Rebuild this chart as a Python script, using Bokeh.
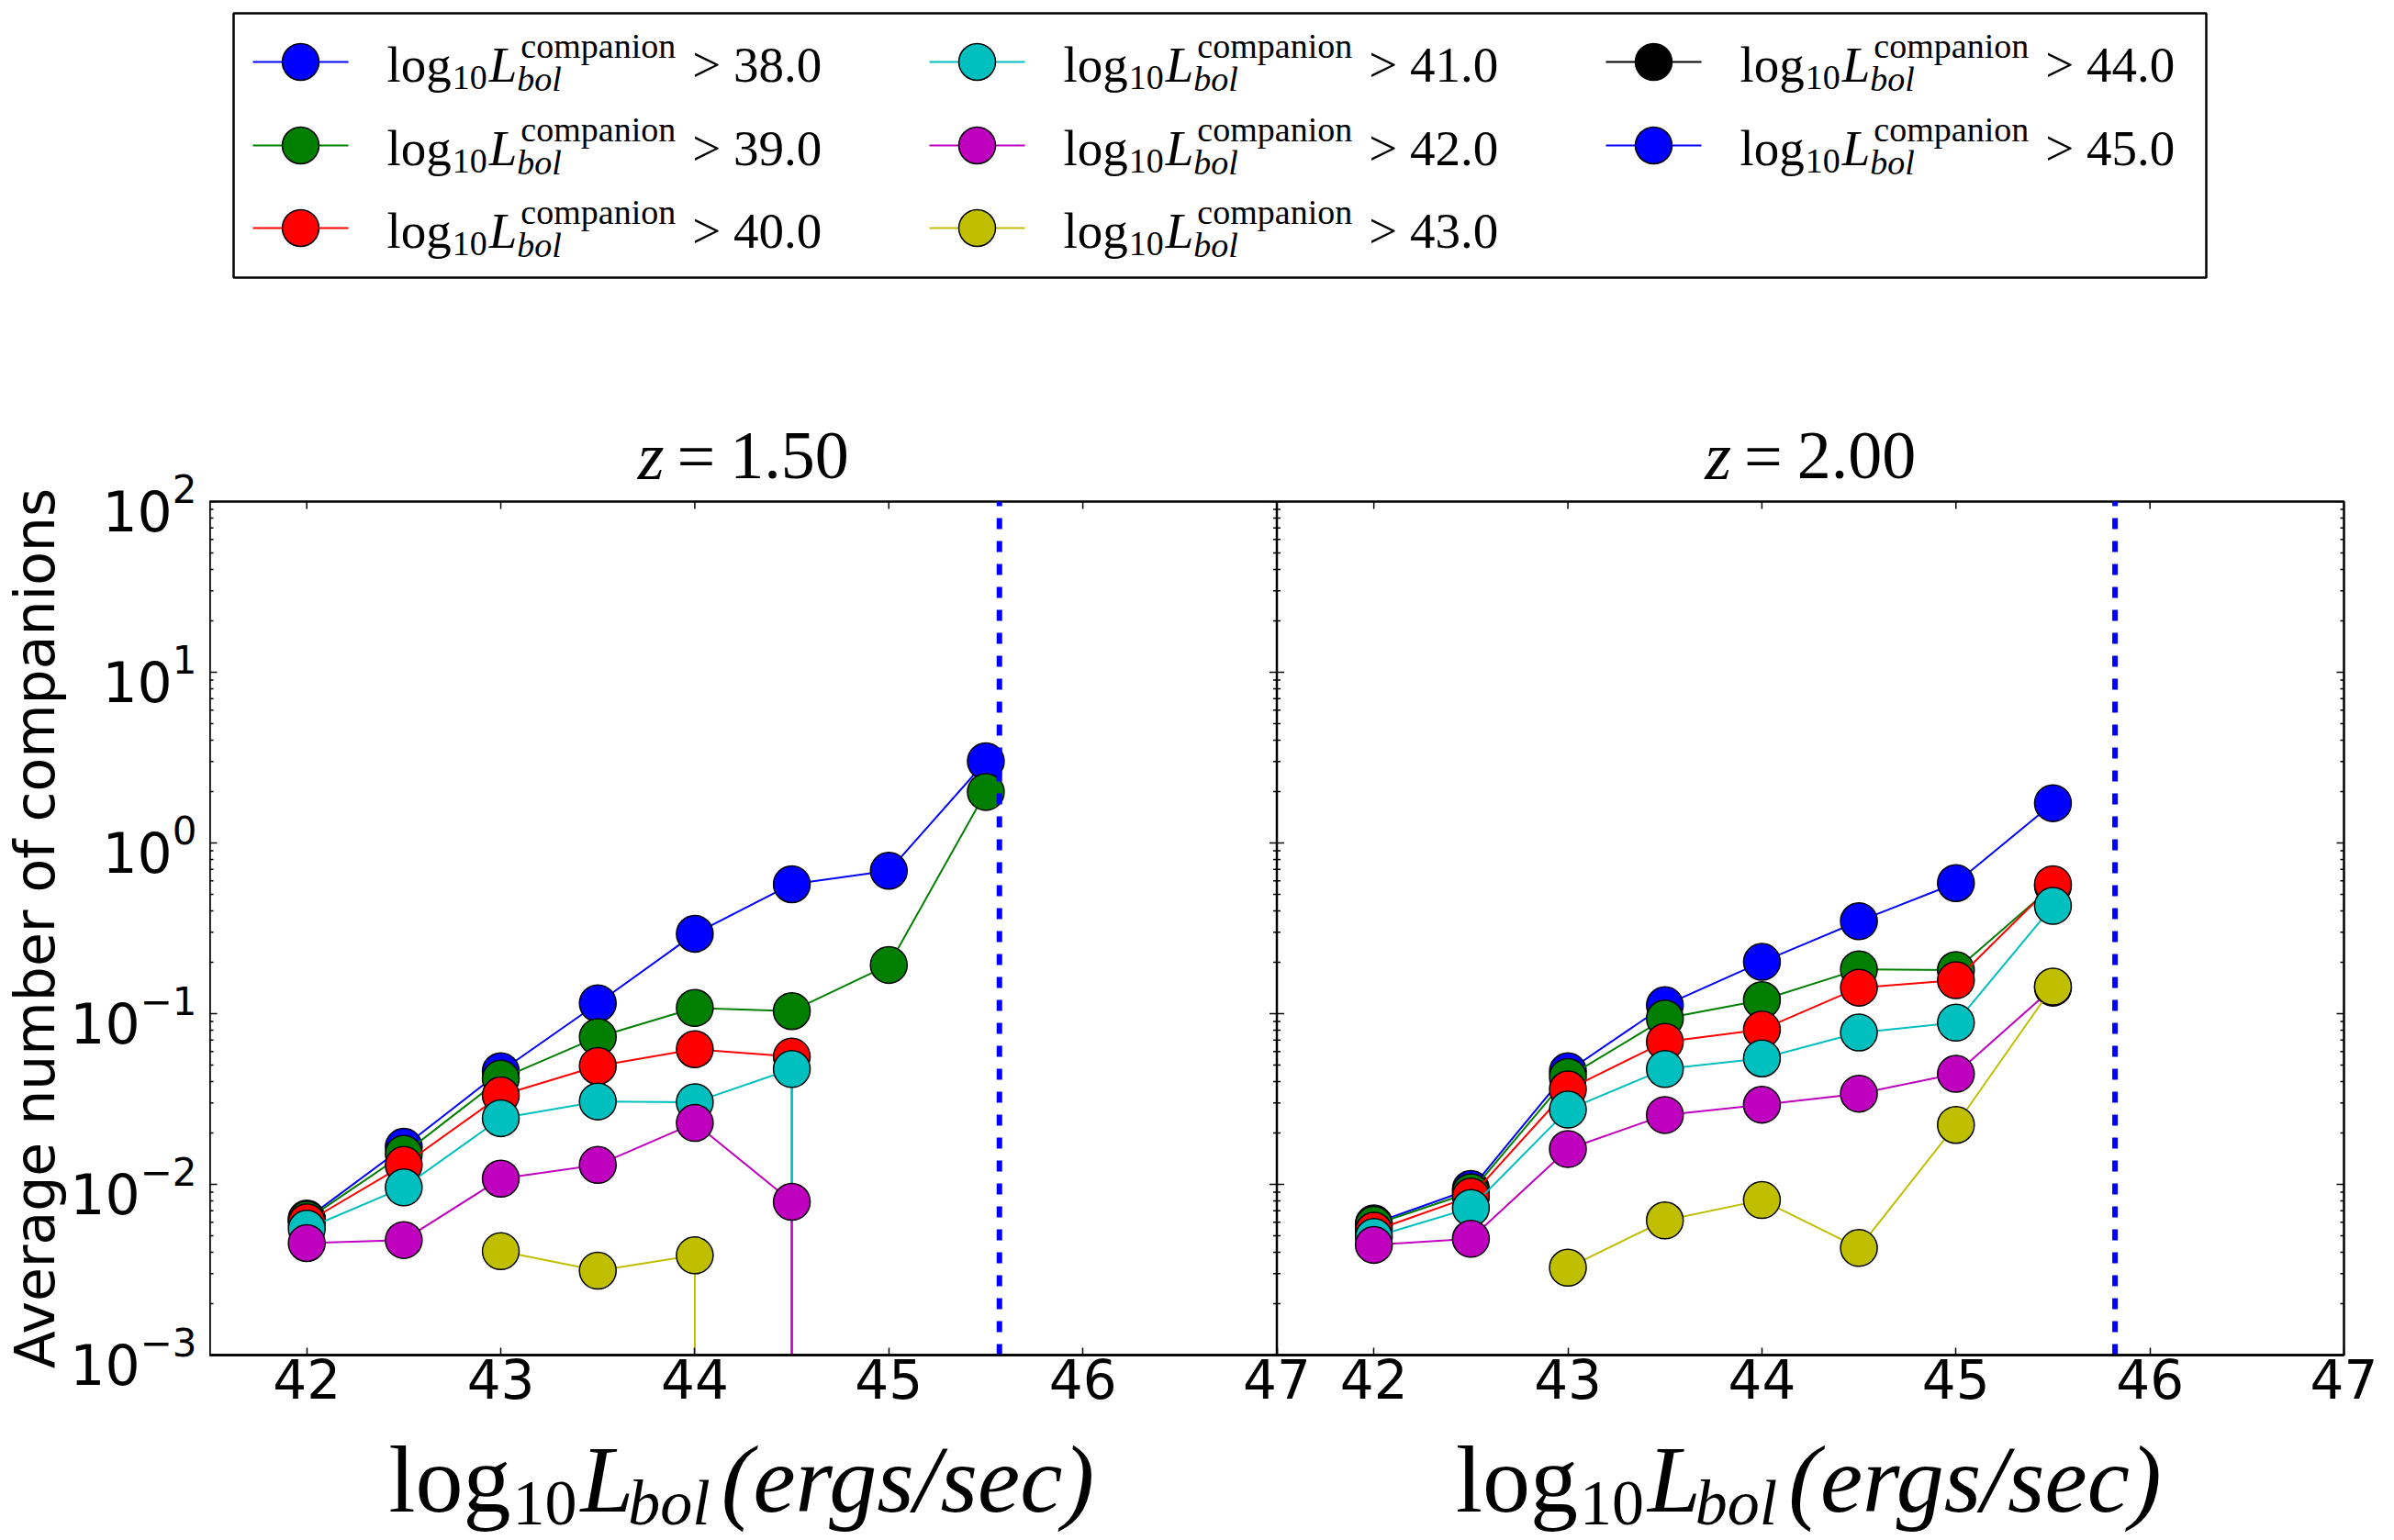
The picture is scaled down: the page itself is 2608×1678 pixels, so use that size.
import numpy as np
from bokeh.plotting import figure
from bokeh.layouts import column, row
from bokeh.models import Range1d, FixedTicker, Span, CustomJSTickFormatter
from bokeh.core.properties import value
from bokeh.embed import file_html
from bokeh.resources import INLINE

# ---------------------------------------------------------------- data
log_lbol = [42.0, 42.5, 43.0, 43.5, 44.0, 44.5, 45.0, 45.5]
thresholds = [38.0, 39.0, 40.0, 41.0, 42.0, 43.0, 44.0, 45.0]
series_colors = ["#0000ff", "#007f00", "#ff0000", "#00bfbf",
                 "#bf00bf", "#bfbf00", "#000000", "#0000ff"]
redshift_labels = ["1.50", "2.00"]
max_lbol = [45.57, 45.82]          # brightest AGN in each snapshot

# None: no AGN in the bin, 0.0: no companion above the threshold
z150_gt38 = [0.0063, 0.0166, 0.046, 0.115, 0.294, 0.573, 0.687, 3.01]
z150_gt39 = [0.0062, 0.0151, 0.0416, 0.073, 0.108, 0.1035, 0.193, 1.99]
z150_gt40 = [0.0060, 0.0130, 0.0332, 0.0494, 0.0619, 0.056, 0.0, 0.0]
z150_gt41 = [0.0055, 0.0096, 0.0244, 0.0306, 0.0303, 0.0474, 0.0, 0.0]
z150_gt42 = [0.00453, 0.00472, 0.0108, 0.0130, 0.0229, 0.0079, 0.0, 0.0]
z150_gt43 = [None, None, 0.00406, 0.00312, 0.00384, 0.0, 0.0, 0.0]

z200_gt38 = [0.0059, 0.0094, 0.046, 0.112, 0.201, 0.348, 0.582, 1.71]
z200_gt39 = [0.0058, 0.0090, 0.0426, 0.0937, 0.120, 0.182, 0.180, 0.56]
z200_gt40 = [0.00535, 0.0085, 0.0360, 0.0684, 0.0807, 0.142, 0.157, 0.573]
z200_gt41 = [0.00492, 0.00728, 0.0274, 0.0474, 0.0547, 0.0775, 0.0885, 0.428]
z200_gt42 = [0.00442, 0.00480, 0.0161, 0.0255, 0.0293, 0.0340, 0.0444, 0.142]
z200_gt43 = [None, None, 0.00325, 0.00615, 0.00809, 0.00424, 0.0223, 0.144]

panel_series = [
    [z150_gt38, z150_gt39, z150_gt40, z150_gt41, z150_gt42, z150_gt43],
    [z200_gt38, z200_gt39, z200_gt40, z200_gt41, z200_gt42, z200_gt43],
]

x_ticks = [42, 43, 44, 45, 46, 47]
y_decades = [-3, -2, -1, 0, 1, 2]

# ---------------------------------------------------------------- helpers
SERIF = "Liberation Serif"
SANS = "DejaVu Sans"
_ROMAN = {' ': 250, '(': 333, ')': 333, '.': 250, '/': 278, '=': 564, '>': 564,
          'a': 444, 'b': 500, 'c': 444, 'e': 444, 'g': 500, 'i': 278, 'l': 278,
          'm': 778, 'n': 500, 'o': 500, 'p': 500, 'r': 333, 's': 389, 'z': 444,
          'L': 611}
_ITALIC = {'L': 556, 'b': 500, 'o': 500, 'l': 278, 'e': 444, 'r': 389, 'g': 500,
           's': 389, 'c': 444, 'z': 389, '(': 333, ')': 333, '/': 278}
MID_TO_BASE = 0.305    # em distance from the "middle" anchor down to the baseline


def text_width(s, size, italic=False):
    table = _ITALIC if italic else _ROMAN
    return sum(table.get(ch, 500) for ch in s) / 1000.0 * size


def bare(fig):
    fig.grid.visible = False
    fig.outline_line_color = None
    fig.background_fill_color = "white"
    fig.border_fill_color = "white"


# page geometry (pixels)
W, H = 2608, 1678
FRAME_LEFT, FRAME_RIGHT = 228, 2553
FRAME_TOP, FRAME_BOTTOM = 546, 1476
TOP_END = 545          # legend + titles strip ends here
BOT_START = 1550       # x-axis titles strip starts here
RIGHT_W = W - FRAME_LEFT

x_lo, x_hi = 41.5, 47.0
x_span = x_hi - x_lo
y_lo, y_hi = 10.0 ** y_decades[0], 10.0 ** y_decades[-1]
y_major = [10.0 ** k for k in y_decades]
y_minor = [m * 10.0 ** k for k in y_decades[:-1] for m in range(2, 10)]
x_mid = (x_lo + x_hi) / 2.0


def panel_ranges(fig):
    # left panel on the default x range, right panel on "z2" (shifted by one panel width)
    fig.extra_x_ranges = {"z2": Range1d(x_lo - x_span, x_hi),
                          "px": Range1d(FRAME_LEFT, FRAME_RIGHT)}


range_names = ["default", "z2"]
common = dict(output_backend="svg", toolbar_location=None)

# ---------------------------------------------------------------- panels
p = figure(width=RIGHT_W, height=BOT_START - TOP_END,
           x_range=Range1d(x_lo, x_hi + x_span), y_range=Range1d(y_lo, y_hi),
           y_axis_type="log", y_axis_location=None,
           min_border_left=0, min_border_right=W - FRAME_RIGHT,
           min_border_top=FRAME_TOP - TOP_END, min_border_bottom=BOT_START - FRAME_BOTTOM,
           **common)
panel_ranges(p)
p.xgrid.visible = False
p.ygrid.visible = False
p.outline_line_color = "black"
p.outline_line_width = 2.5
p.background_fill_color = "white"
p.border_fill_color = "white"

xb = p.xaxis[0]
xb.ticker = FixedTicker(ticks=x_ticks + [t + x_span for t in x_ticks], minor_ticks=[])
xb.formatter = CustomJSTickFormatter(
    args=dict(split=x_hi, shift=x_span),
    code="return (tick > split + 1e-6 ? tick - shift : tick).toFixed(0);")
xb.major_tick_in = 8
xb.major_tick_out = 0
xb.major_tick_line_width = 1.5
xb.axis_line_width = 2.5
xb.major_label_text_font = SANS
xb.major_label_text_font_size = "58px"
xb.major_label_text_color = "black"
xb.major_label_standoff = 4

# shared spine between the panels
p.add_layout(Span(location=x_hi, dimension="height", line_color="black", line_width=2.5))

# inward tick marks on the spines (the frame clips the outer half of each dash)
tick_style = dict(marker="dash", line_color="black", line_width=1.5, fill_color=None)
for rname in range_names:
    p.scatter(x_ticks, [y_hi] * len(x_ticks), x_range_name=rname,
              size=16, angle=np.pi / 2, **tick_style)
for rname, xs in (("default", x_lo), ("default", x_hi), ("z2", x_hi)):
    p.scatter([xs] * len(y_major), y_major, x_range_name=rname, size=16, **tick_style)
    p.scatter([xs] * len(y_minor), y_minor, x_range_name=rname, size=8, **tick_style)

for rname, series_list, lim in zip(range_names, panel_series, max_lbol):
    for vals, color in zip(series_list, series_colors):
        y = np.array([np.nan if (v is None or v <= 0) else v for v in vals])
        p.line(log_lbol, y, x_range_name=rname, line_color=color, line_width=2)
        # a bin with zero companions sends the curve straight down off the log axis
        dx, dy = [], []
        for i in range(len(vals) - 1):
            if vals[i] is not None and vals[i] > 0 and vals[i + 1] == 0:
                dx.append(log_lbol[i])
                dy.append(vals[i])
        if dx:
            p.segment(x0=dx, y0=dy, x1=dx, y1=[y_lo * 1e-3] * len(dx),
                      x_range_name=rname, line_color=color, line_width=2)
        p.scatter(log_lbol, y, x_range_name=rname, size=40, marker="circle",
                  fill_color=color, line_color="black", line_width=1.5)
    p.segment(x0=[lim], y0=[y_lo], x1=[lim], y1=[y_hi], x_range_name=rname,
              line_color="#0000ff", line_width=6, line_dash="12 13")

# ---------------------------------------------------------------- y axis strip
yfig = figure(width=FRAME_LEFT, height=H, x_range=Range1d(0, 1),
              y_range=Range1d(y_lo, y_hi), y_axis_type="log", x_axis_location=None,
              min_border_left=FRAME_LEFT - 2, min_border_right=0,
              min_border_top=FRAME_TOP, min_border_bottom=H - FRAME_BOTTOM, **common)
bare(yfig)
ya = yfig.yaxis[0]
ya.ticker = FixedTicker(ticks=y_major, minor_ticks=[])
ya.axis_line_color = None
ya.major_tick_in = 0
ya.major_tick_out = 0
ya.minor_tick_in = 0
ya.minor_tick_out = 0
ya.major_label_text_font = SANS
ya.major_label_text_font_size = "60px"
ya.major_label_text_color = "black"
ya.major_label_standoff = 12
ya.axis_label = "Average number of companions"
ya.axis_label_text_font = SANS
ya.axis_label_text_font_size = "60px"
ya.axis_label_text_font_style = "normal"
ya.axis_label_text_color = "black"
ya.axis_label_standoff = 0

# ---------------------------------------------------------------- text helpers
pieces_by_style = {}


def add_piece(fig_key, rname, x, baseline, xoff, txt, size, italic):
    key = (fig_key, rname, size, italic)
    d = pieces_by_style.setdefault(key, {"x": [], "y": [], "xo": [], "t": []})
    d["x"].append(x)
    d["y"].append(baseline - MID_TO_BASE * size)   # strips use downward page-pixel y
    d["xo"].append(xoff)
    d["t"].append(txt)


def add_run(fig_key, rname, x, baseline, pieces):
    """Lay out (text, size, italic, gap_before, drop) pieces left to right, centred on x."""
    offs, cur = [], 0.0
    for txt, size, ital, gap, drop in pieces:
        cur += gap
        offs.append(cur)
        cur += text_width(txt, size, ital)
    start = -cur / 2.0
    for (txt, size, ital, gap, drop), xo in zip(pieces, offs):
        add_piece(fig_key, rname, x, baseline + drop, start + xo, txt, size, ital)


def flush(fig, fig_key):
    for (k, rname, size, italic), d in pieces_by_style.items():
        if k != fig_key:
            continue
        fig.text(x=d["x"], y=d["y"], x_offset=d["xo"], text=d["t"],
                 x_range_name=rname, text_font=value(SERIF),
                 text_font_size=value(f"{size}px"),
                 text_font_style=value("italic" if italic else "normal"),
                 text_baseline=value("middle"), text_align=value("left"),
                 text_color="black")


# ---------------------------------------------------------------- legend + titles strip
top = figure(width=RIGHT_W, height=TOP_END,
             x_range=Range1d(x_lo, x_hi + x_span), y_range=Range1d(TOP_END, 0),
             x_axis_location=None, y_axis_location=None,
             min_border_left=0, min_border_right=W - FRAME_RIGHT,
             min_border_top=0, min_border_bottom=0, **common)
panel_ranges(top)
bare(top)

top.quad(left=[254], right=[2403], top=[14], bottom=[302], x_range_name="px",
         fill_color=None, line_color="black", line_width=2.5)

col_x = [327, 1064, 1801]
row_y = [67, 158, 248]
S, s = 55, 38
for i, (thr, color) in enumerate(zip(thresholds, series_colors)):
    mx, my = col_x[i // 3], row_y[i % 3]
    top.segment(x0=[mx - 52], y0=[my], x1=[mx + 52], y1=[my], x_range_name="px",
                line_color=color, line_width=2)
    top.scatter([mx], [my], x_range_name="px", size=40, marker="circle",
                fill_color=color, line_color="black", line_width=1.5)
    x0 = mx + 94
    yb = my + 20
    add_piece("top", "px", x0, yb, 0, "log", S, False)
    xs10 = x0 + text_width("log", S) + 1
    add_piece("top", "px", xs10, yb + 9, 0, "10", s, False)
    xL = xs10 + text_width("10", s) + 2
    add_piece("top", "px", xL, yb, 0, "L", S, True)
    xsc = xL + text_width("L", S, True) + 4
    add_piece("top", "px", xsc, yb - 26, 0, "companion", s, False)
    add_piece("top", "px", xsc - 4, yb + 10, 0, "bol", s, True)
    xg = xsc + text_width("companion", s) + 18
    add_piece("top", "px", xg, yb, 0, f"> {thr:.1f}", S, False)

# panel titles
T_BIG = 74
T_BASE = 519
for rname, zlab in zip(range_names, redshift_labels):
    add_run("top", rname, x_mid, T_BASE, [
        ("z", T_BIG, True, 0, 0),
        ("=", T_BIG, False, 14, 0),
        (zlab, T_BIG, False, 16, 0),
    ])
flush(top, "top")

# ---------------------------------------------------------------- x-axis titles strip
bot = figure(width=RIGHT_W, height=H - BOT_START,
             x_range=Range1d(x_lo, x_hi + x_span), y_range=Range1d(H, BOT_START),
             x_axis_location=None, y_axis_location=None,
             min_border_left=0, min_border_right=W - FRAME_RIGHT,
             min_border_top=0, min_border_bottom=0, **common)
panel_ranges(bot)
bare(bot)

F, f = 104, 70
X_BASE = 1643
for rname in range_names:
    add_run("bot", rname, x_mid, X_BASE, [
        ("log", F, False, 0, 0),
        ("10", f, False, 2, 16),
        ("L", F, True, 4, 0),
        ("bol", f, True, -6, 15),
        ("(ergs/sec)", F, True, 12, 0),
    ])
flush(bot, "bot")

layout = row(yfig, column(top, p, bot))
open("out.html", "w").write(file_html(layout, INLINE))
